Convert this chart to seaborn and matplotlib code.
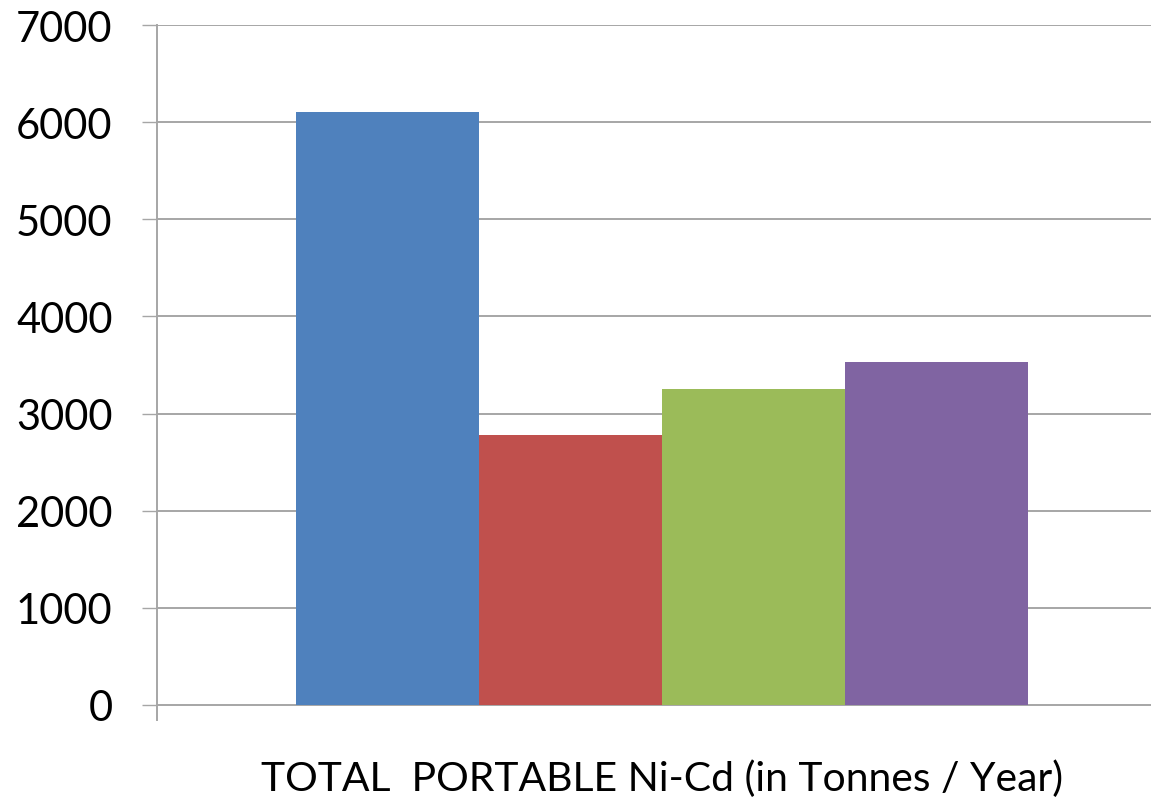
import matplotlib
matplotlib.use("Agg")
import matplotlib.pyplot as plt
import seaborn as sns
import pandas as pd

# Annual portable Ni-Cd battery tonnage, four series in one category
category = ["TOTAL  PORTABLE Ni-Cd (in Tonnes / Year)"]
series = ["Series 1", "Series 2", "Series 3", "Series 4"]
values = [6105, 2775, 3255, 3530]
colors = ["#4F81BD", "#C0504D", "#9BBB59", "#8064A2"]
y_ticks = [0, 1000, 2000, 3000, 4000, 5000, 6000, 7000]

df = pd.DataFrame({
    "category": category * len(series),
    "series": series,
    "value": values,
})

sns.set_theme(style="white")
plt.rcParams["font.family"] = ["Lato", "DejaVu Sans"]

W, H = 1151, 804
fig = plt.figure(figsize=(W / 100, H / 100), dpi=100)
ax_left, ax_right = 157, 1151
ax_top, ax_bottom = 26.3, 721.2
ax = fig.add_axes([ax_left / W, 1 - ax_bottom / H,
                   (ax_right - ax_left) / W, (ax_bottom - ax_top) / H])

sns.barplot(data=df, x="category", y="value", hue="series",
            palette=colors, width=0.8, saturation=1, ax=ax,
            legend=False, edgecolor="none", linewidth=0)

# view limits: bar group centred at pixel 662, y extends slightly below zero
px_per_unit = 732 / 0.8
ax.set_xlim(-(662 - ax_left) / px_per_unit, (ax_right - 662) / px_per_unit)
ax.set_ylim(-160, 7000)
ax.set_yticks(y_ticks)
ax.set_yticklabels([str(t) for t in y_ticks])

ax.yaxis.grid(True, color="#a6a6a6", linewidth=1.4)
ax.set_axisbelow(True)

for s in ["top", "right", "bottom"]:
    ax.spines[s].set_visible(False)
ax.spines["left"].set_color("#a6a6a6")
ax.spines["left"].set_linewidth(1.4)

ax.tick_params(axis="y", which="major", direction="out", length=11,
               width=1.0, color="#a6a6a6", labelsize=30, pad=21,
               labelcolor="#000000", left=True)
ax.tick_params(axis="x", length=0, labelsize=29.4, pad=28, labelcolor="#000000")
ax.set_xlabel("")
ax.set_ylabel("")

fig.savefig("out.png", dpi=100)
